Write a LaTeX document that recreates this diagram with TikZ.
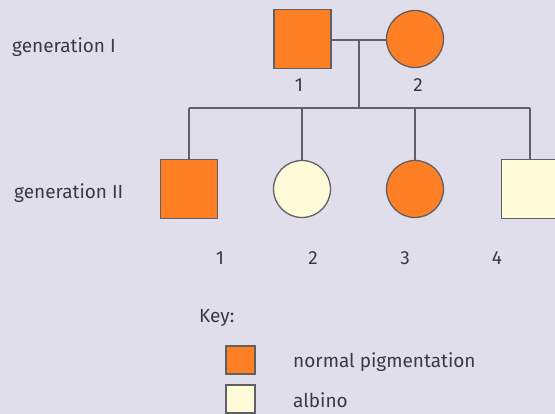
\documentclass[tikz,border=0pt]{standalone}
\usepackage{fontspec}
\setmainfont{Fira Sans}
\definecolor{bgc}{HTML}{E1DEEB}
\definecolor{orng}{HTML}{FF7F24}
\definecolor{crm}{HTML}{FFFAD8}
\definecolor{lnc}{HTML}{5F5F66}
\definecolor{txc}{HTML}{3A3A42}
\begin{document}
\begin{tikzpicture}[x=1pt,y=-1pt,
  male/.style={draw=lnc,line width=1.3pt,rectangle,minimum width=57pt,minimum height=59pt,inner sep=0pt},
  female/.style={draw=lnc,line width=1.3pt,circle,minimum size=57pt,inner sep=0pt},
  keybox/.style={draw=lnc,line width=1.3pt,rectangle,minimum width=29pt,minimum height=28pt,inner sep=0pt},
  aff/.style={fill=orng},
  alb/.style={fill=crm},
  lbl/.style={font=\fontsize{19}{22}\selectfont,text=txc,inner sep=0pt,anchor=base west},
  num/.style={font=\fontsize{19}{22}\selectfont,text=txc,inner sep=0pt,anchor=base},
  link/.style={draw=lnc,line width=1.3pt}]
\useasboundingbox (0,0) rectangle (555,414);
\fill[bgc] (0,0) rectangle (555,414);
% generation I
\node[male,aff] (i1) at (302.5,39) {};
\node[female,aff] (i2) at (415,39) {};
\coordinate (mid) at (359,40);
\coordinate (sib) at (359,108);
\coordinate (sl) at (189,108);
\coordinate (sr) at (530,108);
\draw[link] (i1.east |- mid) -- (i2.west |- mid);
\draw[link] (mid) -- (sib);
\draw[link] (sl) -- (sr);
% generation II
\node[male,aff] (ii1) at (189,189) {};
\node[female,alb] (ii2) at (302,189) {};
\node[female,aff] (ii3) at (415,189) {};
\node[male,alb] (ii4) at (530,189) {};
\draw[link] (sl) -- (ii1.north);
\draw[link] (ii2.north |- sl) -- (ii2.north);
\draw[link] (ii3.north |- sl) -- (ii3.north);
\draw[link] (sr) -- (ii4.north);
% labels
\node[lbl] (g1) at (12,53) {generation I};
\node[lbl] (g2) at (14,199) {generation II};
\node[num] (n11) at (299,92) {1};
\node[num] (n12) at (418,92) {2};
\node[num] (n21) at (220,265) {1};
\node[num] (n22) at (313,265) {2};
\node[num] (n23) at (405,265) {3};
\node[num] (n24) at (497,265) {4};
% key
\node[lbl] (key) at (199,323) {Key:};
\node[keybox,aff] (k1) at (240.5,360) {};
\node[keybox,alb] (k2) at (240.5,399) {};
\node[lbl] (t1) at (293,368) {normal pigmentation};
\node[lbl] (t2) at (293,408) {albino};
\end{tikzpicture}
\end{document}
